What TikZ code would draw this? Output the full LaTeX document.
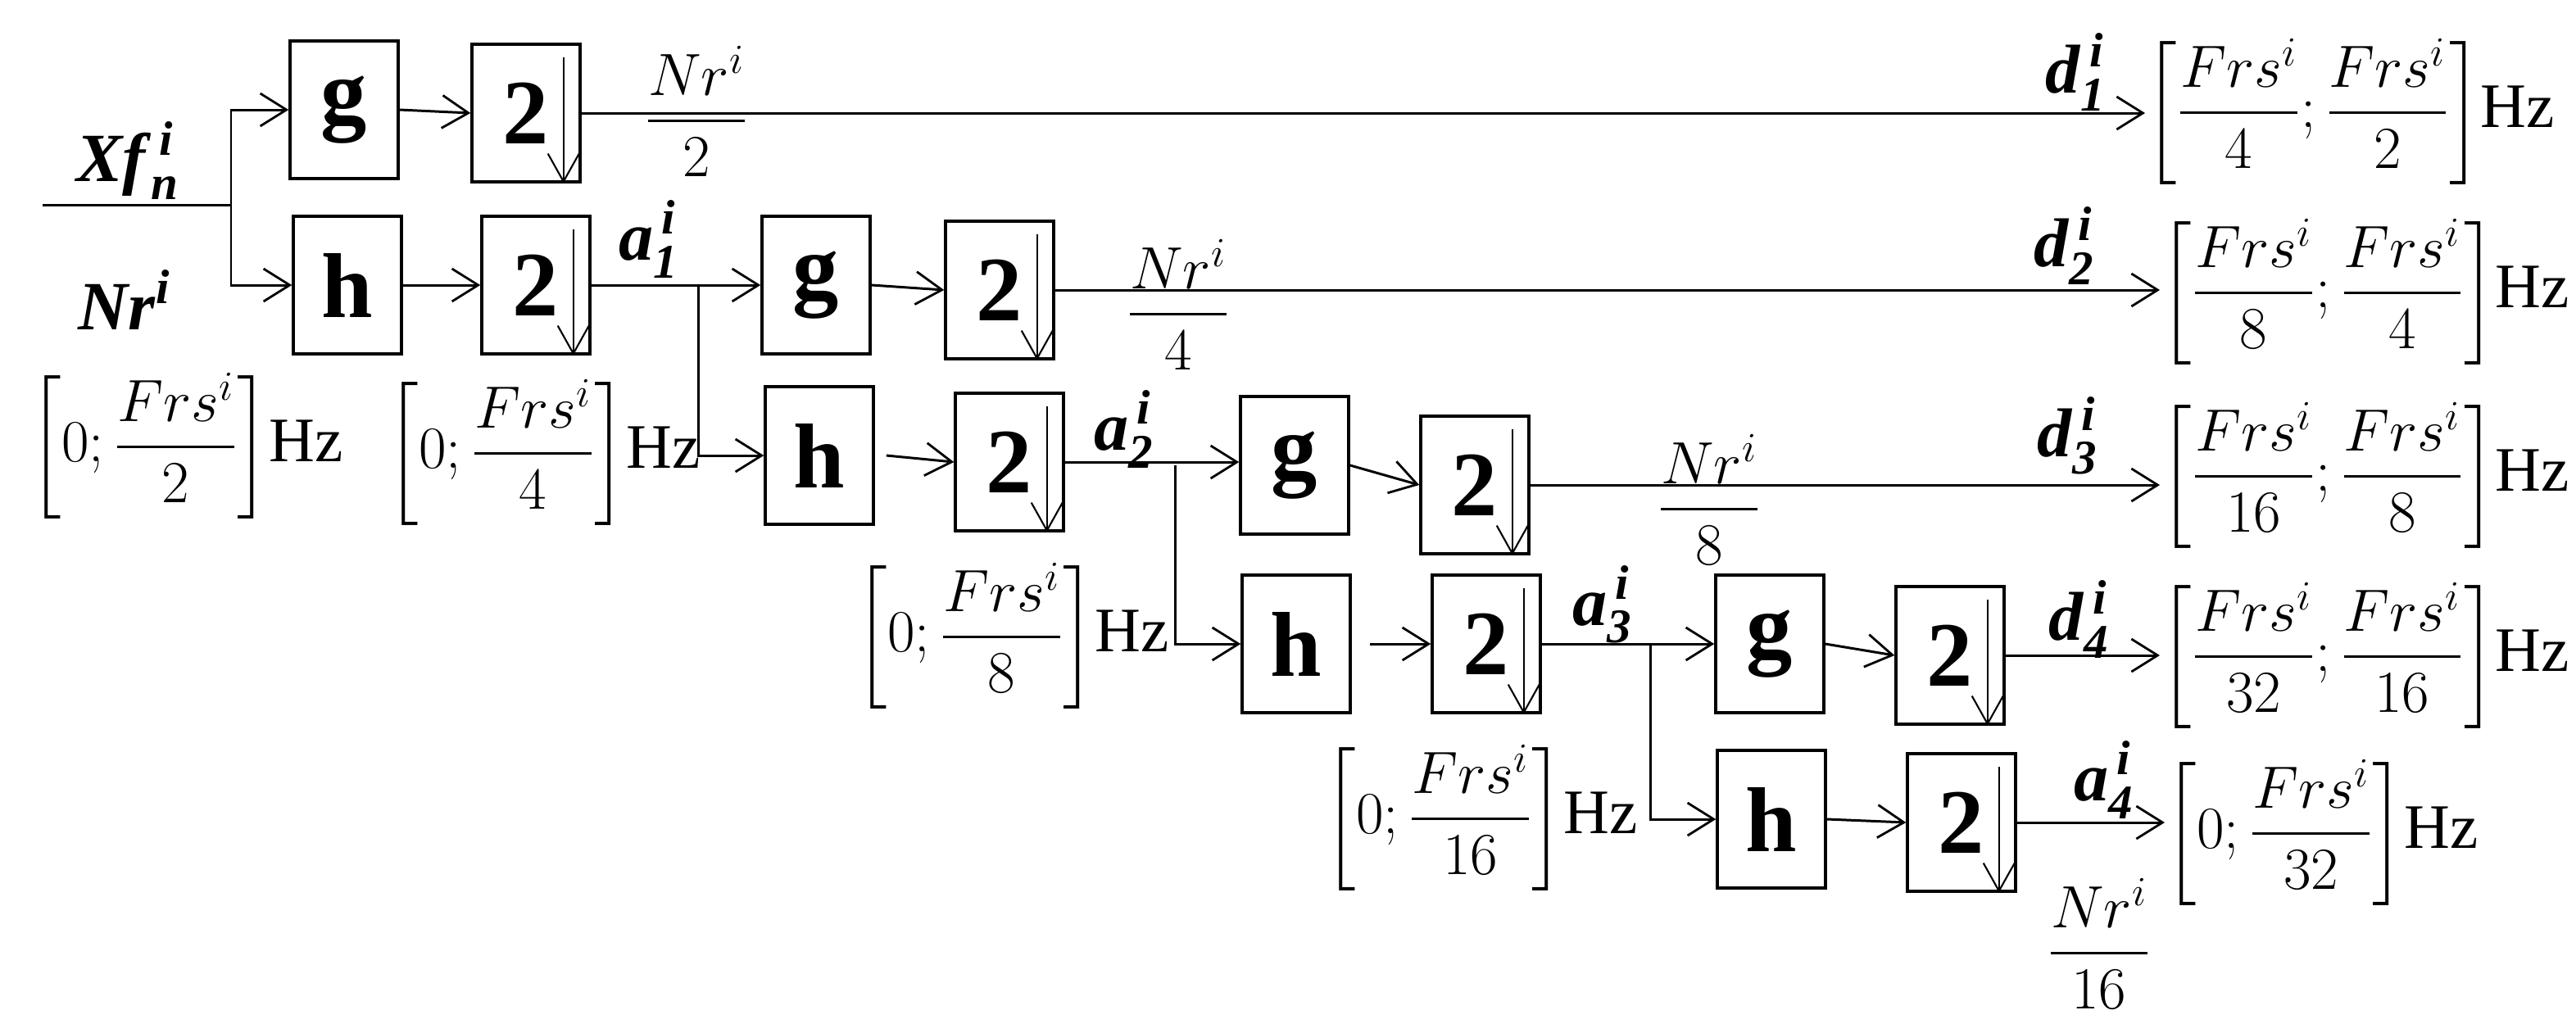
\documentclass[tikz,border=0pt]{standalone}
\usepackage{amsmath}
\usepackage{fontspec}
\setmainfont{Liberation Serif}
\usetikzlibrary{arrows.meta,calc}
\newcommand\lab[3]{\textbf{\textit{#1}}$_{\textbf{\textit{#2}}}^{\,\textbf{\textit{#3}}}$}
\newcommand\hz{\fontsize{22}{24}\selectfont Hz}
\begin{document}
\begin{tikzpicture}[x=0.02cm,y=-0.02cm,
  every node/.style={inner sep=0pt},
  ln/.style={line width=0.85pt},
  arr/.style={ln,-{Straight Barb[length=0.32cm,width=0.4cm,line width=0.8pt]}},
  box/.style={draw,line width=1pt,minimum width=1.32cm,minimum height=1.68cm,font=\fontsize{32}{34}\selectfont\bfseries},
  lbl/.style={font=\fontsize{24}{26}\selectfont},
  frac/.style={font=\fontsize{22}{24}\selectfont},
  brk/.style={font=\fontsize{19.5}{22}\selectfont,anchor=west}]
\useasboundingbox (0,0) rectangle (1572,630);
% boxes
\node[box] (g1) at (210,67) {g};
\node[box] (d1b) at (321,69) {2};
\node[box] (h1) at (212,174) {h};
\node[box] (a1b) at (327,174) {2};
\node[box] (g2) at (498,174) {g};
\node[box] (d2b) at (610,177) {2};
\node[box] (h2) at (500,278) {h};
\node[box] (a2b) at (616,282) {2};
\node[box] (g3) at (790,284) {g};
\node[box] (d3b) at (900,296) {2};
\node[box] (h3) at (791,393) {h};
\node[box] (a3b) at (907,393) {2};
\node[box] (g4) at (1080,393) {g};
\node[box] (d4b) at (1190,400) {2};
\node[box] (h4) at (1081,500) {h};
\node[box] (a4b) at (1197,502) {2};
% down arrows inside 2-boxes
\foreach \b in {d1b,a1b,d2b,a2b,d3b,a3b,d4b,a4b}{
  \draw[line width=0.6pt,-{Straight Barb[length=0.34cm,width=0.38cm,line width=0.6pt]}]
    ($(\b.north east)+(-11,9)$) -- ($(\b.south east)+(-11,0)$);}
% brackets
\node[brk] (B1) at (1309,68) {$\left[\dfrac{Frs^{i}}{4};\dfrac{Frs^{i}}{2}\right]$\hz};
\node[brk] (B2) at (1318,178) {$\left[\dfrac{Frs^{i}}{8};\dfrac{Frs^{i}}{4}\right]$\hz};
\node[brk] (B3) at (1318,290) {$\left[\dfrac{Frs^{i}}{16};\dfrac{Frs^{i}}{8}\right]$\hz};
\node[brk] (B4) at (1318,400) {$\left[\dfrac{Frs^{i}}{32};\dfrac{Frs^{i}}{16}\right]$\hz};
\node[brk] (B5) at (1321,508) {$\left[0;\dfrac{Frs^{i}}{32}\right]$\hz};
\node[brk] (L1) at (18,272) {$\left[0;\dfrac{Frs^{i}}{2}\right]$\hz};
\node[brk] (L2) at (236,276) {$\left[0;\dfrac{Frs^{i}}{4}\right]$\hz};
\node[brk] (L3) at (522,388) {$\left[0;\dfrac{Frs^{i}}{8}\right]$\hz};
\node[brk] (L4) at (808,499) {$\left[0;\dfrac{Frs^{i}}{16}\right]$\hz};
% Nr fractions
\node[frac] (N1) at (425,68) {$\dfrac{Nr^{i}}{2}$};
\node[frac] (N2) at (719,186) {$\dfrac{Nr^{i}}{4}$};
\node[frac] (N3) at (1043,305) {$\dfrac{Nr^{i}}{8}$};
\node[frac] (N4) at (1281,576) {$\dfrac{Nr^{i}}{16}$};
% labels
\node[lbl] (Xf) at (78,98) {\lab{Xf}{n}{i}};
\node[lbl] (Nr) at (76,183) {\textbf{\textit{Nr}}$^{\textbf{\textit{i}}}$};
\node[lbl] (la1) at (396,146) {\lab{a}{1}{i}};
\node[lbl] (la2) at (686,262) {\lab{a}{2}{i}};
\node[lbl] (la3) at (978,369) {\lab{a}{3}{i}};
\node[lbl] (la4) at (1284,476) {\lab{a}{4}{i}};
\node[lbl] (ld1) at (1267,44) {\lab{d}{1}{i}};
\node[lbl] (ld2) at (1260,150) {\lab{d}{2}{i}};
\node[lbl] (ld3) at (1262,266) {\lab{d}{3}{i}};
\node[lbl] (ld4) at (1269,378) {\lab{d}{4}{i}};
% junctions
\coordinate (in0) at (26,125);
\coordinate (j0) at (141,125);
\coordinate (j1) at (426,174);
\coordinate (j2) at (717,284);
\coordinate (j3) at (1007,393);
% connectors
\draw[ln] (in0) -- (j0);
\draw[arr] (j0) |- (g1.west);
\draw[arr] (j0) |- (h1.west);
\draw[arr] (g1.east) -- (d1b.west);
\draw[arr] (h1.east) -- (a1b.west);
\draw[arr] (d1b.east) -- (d1b.east -| B1.west);
\draw[ln] (a1b.east) -- (j1);
\draw[arr] (j1) -- (g2.west);
\draw[arr] (j1) |- (h2.west);
\draw[arr] (g2.east) -- (d2b.west);
\draw[arr] ([xshift=4pt]h2.east) -- (a2b.west);
\draw[arr] (d2b.east) -- (d2b.east -| B2.west);
\draw[ln] (a2b.east) -- (a2b.east -| j2);
\draw[arr] (a2b.east -| j2) -- (a2b.east -| g3.west);
\draw[arr] (j2) |- (h3.west);
\draw[arr] (g3.east) -- (d3b.west);
\draw[arr] ([xshift=0.22cm]h3.east) -- (a3b.west);
\draw[arr] (d3b.east) -- (d3b.east -| B3.west);
\draw[ln] (a3b.east) -- (j3);
\draw[arr] (j3) -- (g4.west);
\draw[arr] (j3) |- (h4.west);
\draw[arr] (g4.east) -- (d4b.west);
\draw[arr] (h4.east) -- (a4b.west);
\draw[arr] (d4b.east) -- (d4b.east -| B4.west);
\draw[arr] (a4b.east) -- (a4b.east -| B5.west);
\end{tikzpicture}
\end{document}
